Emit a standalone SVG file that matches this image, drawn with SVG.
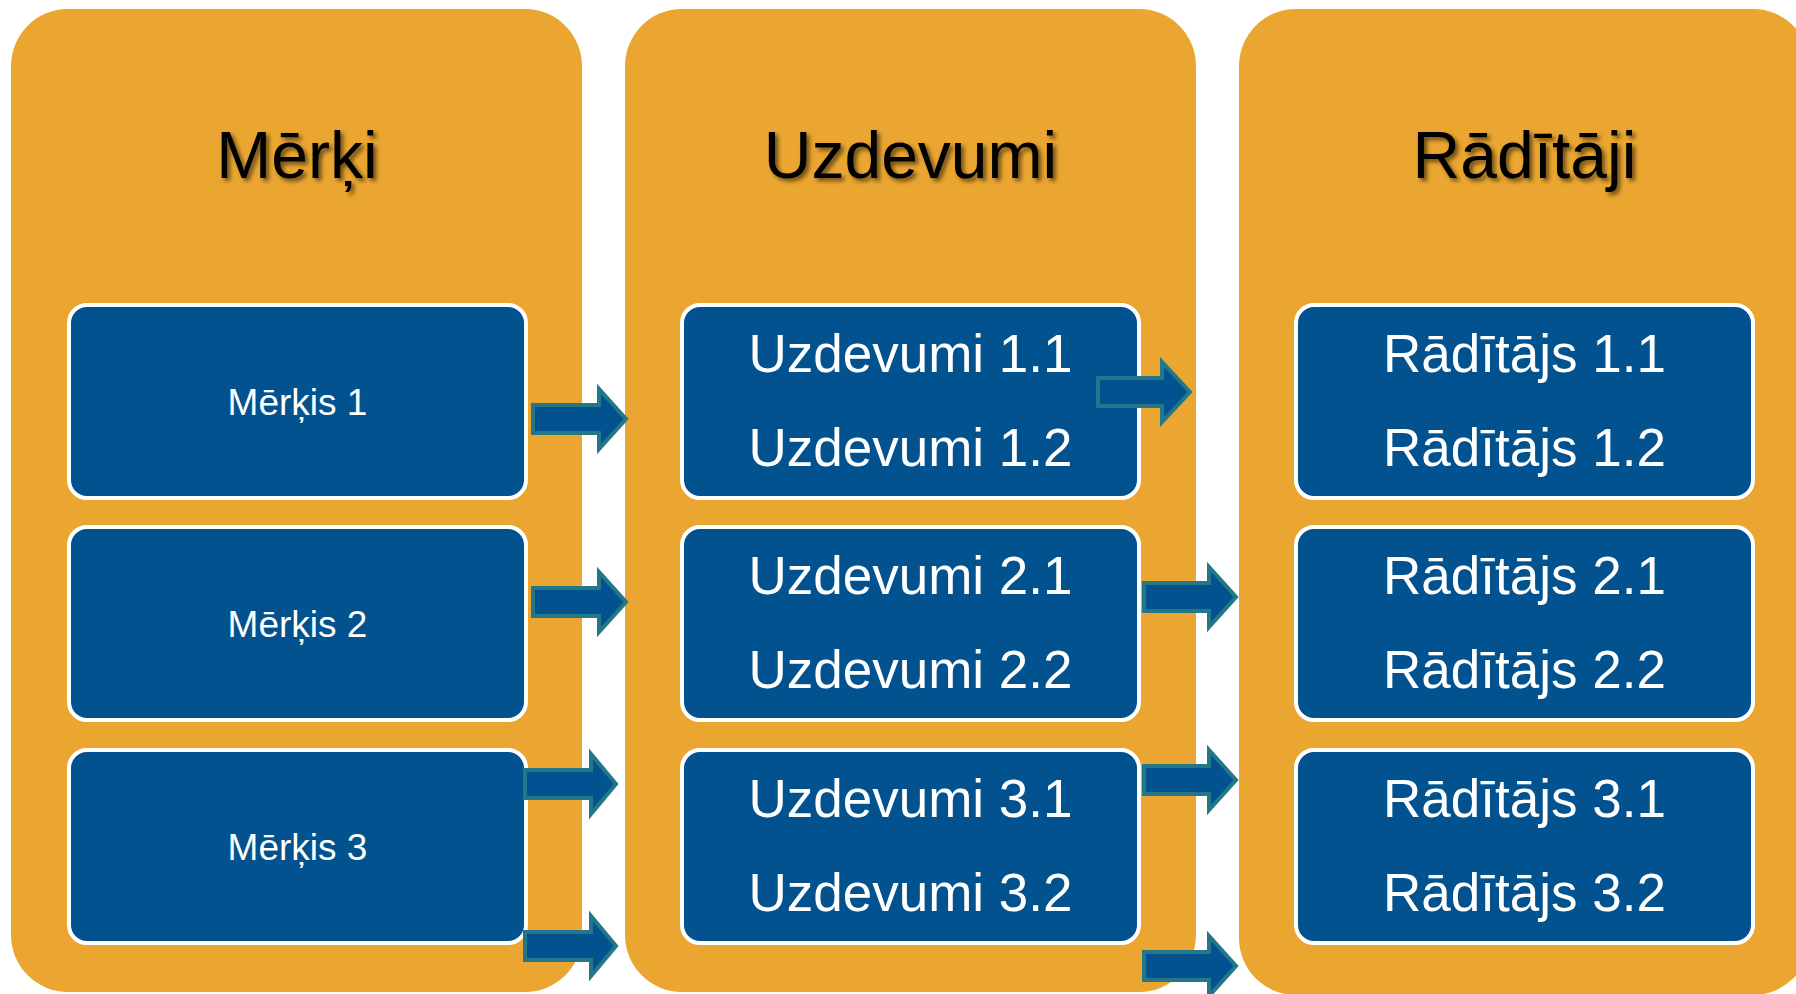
<svg xmlns="http://www.w3.org/2000/svg" width="1796" height="994" viewBox="0 0 1796 994">
<defs>
<filter id="sh" x="-10%" y="-20%" width="130%" height="150%">
<feDropShadow dx="3" dy="3" stdDeviation="2" flood-color="#000" flood-opacity="0.55"/>
</filter>
<style>
.col{fill:#EAA630}
.box{fill:#02528F;stroke:#FFFFFF;stroke-width:4}
.hdr{font-family:"Liberation Sans",Arial,sans-serif;font-size:66px;fill:#000;text-anchor:middle}
.sm{font-family:"Liberation Sans",Arial,sans-serif;font-size:37px;fill:#FFF;text-anchor:middle}
.lg{font-family:"Liberation Sans",Arial,sans-serif;font-size:53px;fill:#FFF;text-anchor:middle}
.arr{fill:#02528F;stroke:#237789;stroke-width:4;stroke-linejoin:miter}
</style>
</defs>
<rect width="1796" height="994" fill="#FFFFFF"/>
<g id="col-merki">
<rect class="col" x="11" y="9" width="571" height="983" rx="57"/>
<text class="hdr" x="297" y="178" filter="url(#sh)">Mērķi</text>
</g>
<g id="col-uzdevumi">
<rect class="col" x="625" y="9" width="571" height="983" rx="57"/>
<text class="hdr" x="910.5" y="178" filter="url(#sh)">Uzdevumi</text>
</g>
<g id="col-raditaji">
<rect class="col" x="1239" y="9" width="571" height="986" rx="57"/>
<text class="hdr" x="1524.5" y="178" filter="url(#sh)">Rādītāji</text>
</g>
<g id="merkis1"><rect class="box" x="69" y="305" width="457" height="193" rx="18"/><text class="sm" x="297.5" y="415">Mērķis 1</text></g>
<g id="merkis2"><rect class="box" x="69" y="527" width="457" height="193" rx="18"/><text class="sm" x="297.5" y="637">Mērķis 2</text></g>
<g id="merkis3"><rect class="box" x="69" y="750" width="457" height="193" rx="18"/><text class="sm" x="297.5" y="860">Mērķis 3</text></g>
<g id="uzdevumi1"><rect class="box" x="682" y="305" width="457" height="193" rx="18"/><text class="lg" x="910.5" y="372">Uzdevumi 1.1</text><text class="lg" x="910.5" y="466">Uzdevumi 1.2</text></g>
<g id="uzdevumi2"><rect class="box" x="682" y="527" width="457" height="193" rx="18"/><text class="lg" x="910.5" y="594">Uzdevumi 2.1</text><text class="lg" x="910.5" y="688">Uzdevumi 2.2</text></g>
<g id="uzdevumi3"><rect class="box" x="682" y="750" width="457" height="193" rx="18"/><text class="lg" x="910.5" y="817">Uzdevumi 3.1</text><text class="lg" x="910.5" y="911">Uzdevumi 3.2</text></g>
<g id="raditajs1"><rect class="box" x="1296" y="305" width="457" height="193" rx="18"/><text class="lg" x="1524.5" y="372">Rādītājs 1.1</text><text class="lg" x="1524.5" y="466">Rādītājs 1.2</text></g>
<g id="raditajs2"><rect class="box" x="1296" y="527" width="457" height="193" rx="18"/><text class="lg" x="1524.5" y="594">Rādītājs 2.1</text><text class="lg" x="1524.5" y="688">Rādītājs 2.2</text></g>
<g id="raditajs3"><rect class="box" x="1296" y="750" width="457" height="193" rx="18"/><text class="lg" x="1524.5" y="817">Rādītājs 3.1</text><text class="lg" x="1524.5" y="911">Rādītājs 3.2</text></g>
<g id="connectors">
<path class="arr" d="M533,405 H599 V389 L626,419 L599,449 V433 H533 Z"/>
<path class="arr" d="M533,588 H599 V572 L626,602 L599,632 V616 H533 Z"/>
<path class="arr" d="M525,770 H591 V754 L616,784 L591,814 V798 H525 Z"/>
<path class="arr" d="M525,932 H591 V916 L616,946 L591,976 V960 H525 Z"/>
<path class="arr" d="M1098,378 H1162 V362 L1190,392 L1162,422 V406 H1098 Z"/>
<path class="arr" d="M1144,583 H1209 V567 L1236,597 L1209,627 V611 H1144 Z"/>
<path class="arr" d="M1144,766 H1209 V750 L1236,780 L1209,810 V794 H1144 Z"/>
<path class="arr" d="M1144,952 H1209 V936 L1236,966 L1209,996 V980 H1144 Z"/>
</g>
</svg>
